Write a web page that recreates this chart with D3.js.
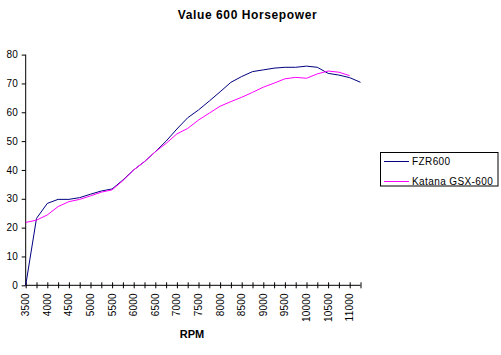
<!DOCTYPE html>
<html><head><meta charset="utf-8">
<script src="https://cdn.jsdelivr.net/npm/d3@7"></script>
<style>body{margin:0;background:#fff}svg{display:block}text{font-family:Arial,"Liberation Sans",sans-serif}</style>
</head><body><svg id="c" width="501" height="355"></svg>
<script>
const rpm = [3500,3750,4000,4250,4500,4750,5000,5250,5500,5750,6000,6250,6500,6750,7000,7250,7500,7750,8000,8250,8500,8750,9000,9250,9500,9750,10000,10250,10500,10750,11000,11250];
const fzr = [0,23.2,28.4,29.8,29.8,30.4,31.6,32.7,33.4,36.5,40.0,42.9,46.3,50.0,54.2,58.1,60.8,63.9,67.1,70.4,72.4,74.1,74.7,75.3,75.6,75.6,76.0,75.6,73.5,72.9,72.0,70.4];
const katana = [21.8,22.6,24.4,27.3,29.0,29.8,31.0,32.3,33.1,36.3,40.0,42.9,46.3,49.2,52.5,54.4,57.3,59.7,62.1,63.7,65.2,66.9,68.7,70.1,71.6,72.1,71.8,73.3,74.3,73.9,72.7];
const yTicks = [0,10,20,30,40,50,60,70,80];
const seriesNames = ["FZR600","Katana GSX-600"];
const colors = ["#000080","#FF00FF"];

const svg = d3.select("#c");
const x = d3.scaleLinear().domain([3500,11250]).range([25.7,360.5]);
const y = d3.scaleLinear().domain([0,80]).range([285.3,54.6]);

svg.append("text").attr("x",247.5).attr("y",19).attr("text-anchor","middle")
  .attr("font-size",12).attr("letter-spacing",0.6).attr("font-weight","bold").text("Value 600 Horsepower");

// y axis
const ya = svg.append("g").attr("transform","translate(25.7,0)")
  .call(d3.axisLeft(y).tickValues(yTicks).tickSize(4).tickPadding(4).tickFormat(d3.format("d")));
ya.select(".domain").attr("stroke","#000").attr("d",`M0,${y(80)}V${y(0)}`);
ya.selectAll("text").attr("font-size",10).attr("font-family","Arial,'Liberation Sans',sans-serif").attr("fill","#000");

// x axis
const xa = svg.append("g").attr("transform",`translate(0,${y(0)})`)
  .call(d3.axisBottom(x).tickValues(rpm).tickSize(3).tickFormat(""));
xa.select(".domain").attr("d",`M${x(3500)},0H${x(11250)}`);
xa.selectAll(".tick line").attr("y1",-3).attr("y2",3);
svg.append("g").selectAll("text").data(rpm.filter(d=>d%500===0 && d<=11000)).join("text")
  .attr("transform",d=>`translate(${x(d)+3.5},${y(0)+8}) rotate(-90)`)
  .attr("text-anchor","end").attr("font-size",10).attr("letter-spacing",0.2).text(d=>d);

svg.append("text").attr("x",192).attr("y",338).attr("text-anchor","middle")
  .attr("font-size",11).attr("font-weight","bold").text("RPM");

const line = d3.line().x((d,i)=>x(rpm[i])).y(d=>y(d));
[fzr,katana].forEach((s,i)=>{
  svg.append("path").attr("d",line(s)).attr("fill","none").attr("stroke",colors[i]).attr("stroke-width",1);
});

// legend
svg.append("rect").attr("x",380.5).attr("y",152.5).attr("width",117.5).attr("height",33.5)
  .attr("fill","#fff").attr("stroke","#000");
seriesNames.forEach((n,i)=>{
  const ly = 161.5 + i*20;
  svg.append("line").attr("x1",384).attr("x2",409).attr("y1",ly).attr("y2",ly).attr("stroke",colors[i]);
  svg.append("text").attr("x",412).attr("y",ly+3.5).attr("font-size",10).attr("letter-spacing",0.4).text(n);
});
</script></body></html>
